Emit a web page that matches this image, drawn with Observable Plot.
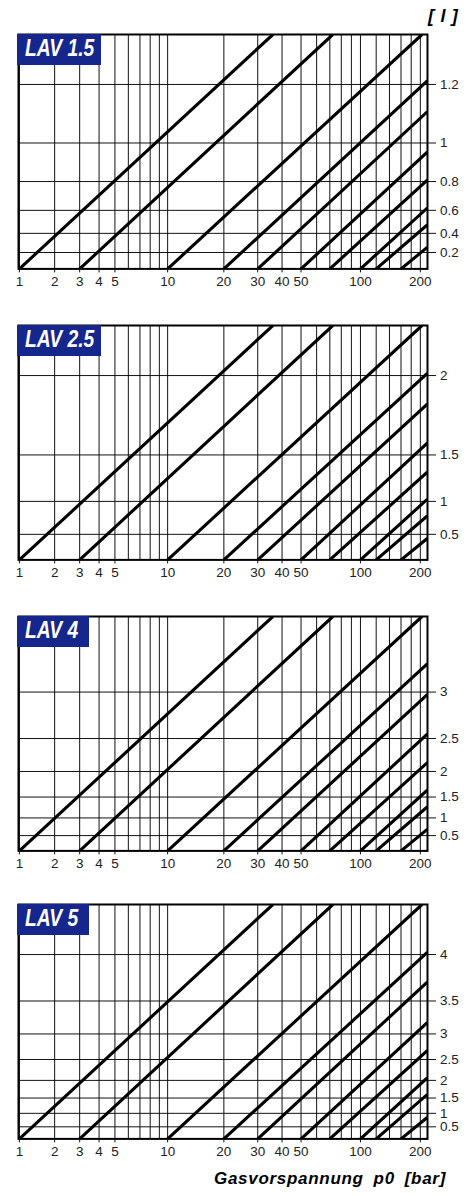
<!DOCTYPE html>
<html>
<head>
<meta charset="utf-8">
<script src="https://cdn.jsdelivr.net/npm/d3@7"></script>
<script src="https://cdn.jsdelivr.net/npm/@observablehq/plot@0.6"></script>
<style>
  html, body { margin: 0; padding: 0; background: #fff; }
  #wrap { position: relative; width: 476px; height: 1196px; overflow: hidden; font-family: "Liberation Sans", Arial, sans-serif; }
  .panel { position: absolute; left: 0; }
  .lab { position: absolute; left: 17px; height: 31px; background: #15278c; }
  .lab span { position: absolute; left: 8px; top: 3.6px; color: #fff; font-weight: bold; font-style: italic; font-size: 23.5px; line-height: 23px; white-space: nowrap; transform-origin: 0 0; }
  .unit { position: absolute; left: 428px; top: 7px; font: italic bold 18px/18px "Liberation Sans", Arial, sans-serif; letter-spacing: 0.7px; color: #000; white-space: pre; }
  .xtitle { position: absolute; left: 0; width: 446px; text-align: right; top: 1169.6px; font: italic bold 17px/17px "Liberation Sans", Arial, sans-serif; letter-spacing: 0.7px; word-spacing: 4.5px; color: #000; white-space: pre; }
</style>
</head>
<body>
<div id="wrap"></div>
<script>
// ---------------- data ----------------
const panelNames = ["LAV 1.5", "LAV 2.5", "LAV 4", "LAV 5"];
const nominalVolumes = [1.5, 2.5, 4, 5];              // l, nominal accumulator volume per panel
const topVolumes = [1.306, 2.177, 3.483, 4.354];      // l, volume at the upper frame edge
const yTickLabels = [
  [0.2, 0.4, 0.6, 0.8, 1, 1.2],
  [0.5, 1, 1.5, 2],
  [0.5, 1, 1.5, 2, 2.5, 3],
  [0.5, 1, 1.5, 2, 2.5, 3, 3.5, 4]
];
const xTickLabels = [1, 2, 3, 4, 5, 10, 20, 30, 40, 50, 100, 200];
const xGridValues = [1, 2, 3, 4, 5, 6, 7, 8, 9, 10, 20, 30, 40, 50, 60, 70, 80, 90, 100, 120, 140, 160, 180, 200];
const pressureRange = [0.98, 217.3];                  // bar at left / right frame edge
const lineStarts = [1, 3, 10, 20, 30, 50, 70, 100, 120, 160];   // bar, where each curve leaves the bottom
const topExitPressures = [35.9, 72.5, 204];           // bar, where the first three curves hit the top edge
const rightExitVolumes = [                             // l, where the remaining curves hit the right edge
  [1.21, 1.12, 0.96, 0.81, 0.62, 0.48, 0.26],
  [2.01, 1.86, 1.60, 1.34, 1.03, 0.80, 0.43],
  [3.22, 2.98, 2.56, 2.15, 1.65, 1.28, 0.69],
  [4.02, 3.73, 3.19, 2.69, 2.07, 1.61, 0.86]
];
const unitLabel = "[ l ]";
const xTitle = "Gasvorspannung p0 [bar]";

// ---------------- layout ----------------
const frameTops = [34, 325, 616, 904.3];
const FRAME_H = 234.4, MT = 8, MB = 32;
const FONT = "'Liberation Sans', Arial, sans-serif";

function hasFont(name) {
  const c = document.createElement("canvas").getContext("2d");
  const s = "LAV 1.5 mmmWWiil";
  c.font = "italic bold 40px monospace";
  const a = c.measureText(s).width;
  c.font = `italic bold 40px '${name}', monospace`;
  const b = c.measureText(s).width;
  return Math.abs(a - b) > 0.5;
}
const narrow = hasFont("Liberation Sans Narrow");

const wrap = document.getElementById("wrap");

// volume -> nomogram ordinate
function uOf(v, V0) { return -Math.log(1 - v / V0); }

panelNames.forEach((name, k) => {
  const V0 = nominalVolumes[k];
  const u = v => uOf(v, V0);
  const ticks = yTickLabels[k];
  const uTicks = ticks.map(v => u(v));
  const segs = [];
  lineStarts.forEach((p0, i) => {
    segs.push({id: i, p: p0, v: 0});
    if (i < topExitPressures.length) segs.push({id: i, p: topExitPressures[i], v: topVolumes[k]});
    else segs.push({id: i, p: pressureRange[1], v: rightExitVolumes[k][i - topExitPressures.length]});
  });

  const chart = Plot.plot({
    width: 476,
    height: MT + FRAME_H + MB,
    marginLeft: 18, marginRight: 49, marginTop: MT, marginBottom: MB,
    style: {fontFamily: FONT, background: "transparent", overflow: "visible"},
    x: {type: "log", domain: pressureRange.map(p => p + 1), axis: null},
    y: {type: "linear", domain: [0, u(topVolumes[k])], axis: null},
    marks: [
      Plot.ruleX(xGridValues, {x: p => p + 1, stroke: "#111", strokeWidth: 1}),
      Plot.ruleY(ticks, {y: v => u(v), stroke: "#111", strokeWidth: 1}),
      Plot.line(segs, {x: d => d.p + 1, y: d => u(d.v), z: "id", stroke: "#000", strokeWidth: 3.1, clip: true, strokeLinecap: "butt"}),
      Plot.frame({stroke: "#000", strokeWidth: 2}),
      Plot.axisX({ticks: xTickLabels.map(p => p + 1), tickSize: 4, tickFormat: () => "", color: "#111"}),
      Plot.text(xTickLabels, {x: p => p + 1, text: p => String(p), frameAnchor: "bottom", dy: 17.3, fontSize: 13.5, fill: "#222"}),
      Plot.axisY({anchor: "right", ticks: uTicks, tickSize: 8, tickFormat: () => "", color: "#111"}),
      Plot.text(ticks, {y: v => u(v), text: v => String(v), frameAnchor: "right", textAnchor: "start", dx: 12.5, fontSize: 13.5, fill: "#222"})
    ]
  });
  chart.classList.add("panel");
  chart.style.position = "absolute";
  chart.style.top = (frameTops[k] - MT) + "px";
  chart.style.left = "0px";
  wrap.appendChild(chart);

  const box = document.createElement("div");
  box.className = "lab";
  box.style.top = (frameTops[k] - 0.5) + "px";
  const span = document.createElement("span");
  span.textContent = name;
  if (narrow) {
    span.style.fontFamily = "'Liberation Sans Narrow', 'Arial Narrow', sans-serif";
  } else {
    span.style.fontFamily = FONT;
    span.style.transform = "scaleX(0.82)";
  }
  box.appendChild(span);
  wrap.appendChild(box);
  const w = span.getBoundingClientRect().width;
  box.style.width = Math.max(w + 14.5, 71.5) + "px";
});

const unit = document.createElement("div");
unit.className = "unit";
unit.textContent = unitLabel;
wrap.appendChild(unit);

const xt = document.createElement("div");
xt.className = "xtitle";
xt.textContent = xTitle;
wrap.appendChild(xt);
</script>
</body>
</html>
